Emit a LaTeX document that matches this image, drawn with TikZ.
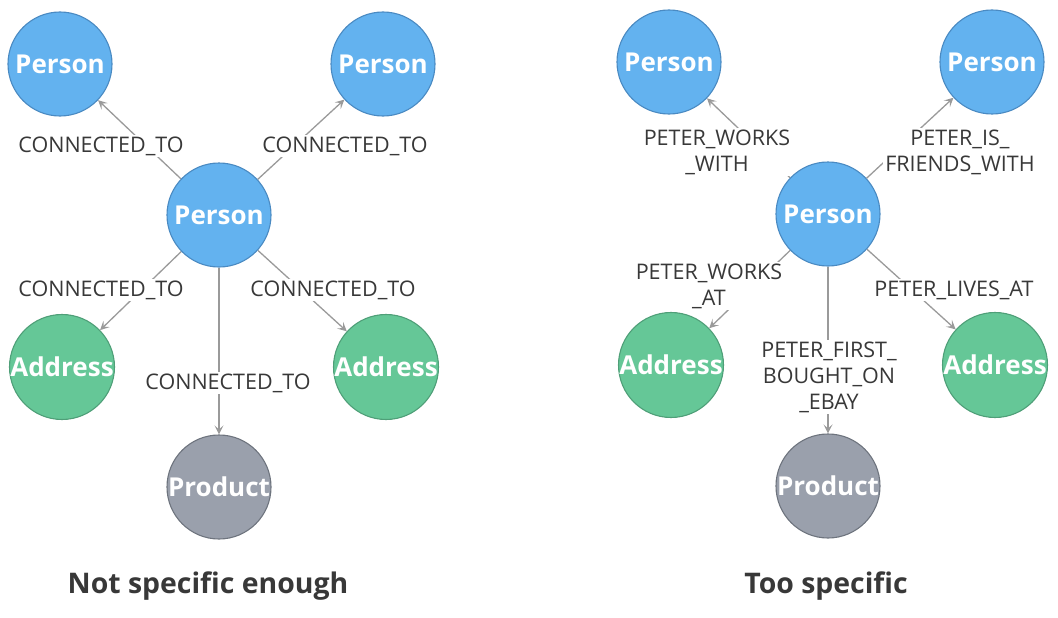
\documentclass[tikz,border=0pt]{standalone}
\usepackage{fontspec}
\setmainfont{Open Sans}
\usepackage{xcolor}
\usetikzlibrary{arrows.meta,positioning,backgrounds}
\definecolor{PersonFill}{HTML}{63B2EF}
\definecolor{PersonLine}{HTML}{4A8AC2}
\definecolor{AddressFill}{HTML}{65C797}
\definecolor{AddressLine}{HTML}{4F9F78}
\definecolor{ProductFill}{HTML}{9AA0AC}
\definecolor{ProductLine}{HTML}{6E747E}
\definecolor{Edge}{HTML}{9A9A9A}
\definecolor{Ink}{HTML}{383838}
\tikzset{entity/.style={circle,line width=1.1pt,minimum size=104pt,inner sep=0pt,text=white,font=\fontsize{26}{30}\selectfont\bfseries},person/.style={entity,draw=PersonLine,fill=PersonFill},address/.style={entity,draw=AddressLine,fill=AddressFill},product/.style={entity,draw=ProductLine,fill=ProductFill},rel/.style={draw=Edge,line width=1.3pt,-{Stealth[length=9pt,width=9pt,inset=4pt]}},rellabel/.style={fill=white,inner xsep=2.5pt,inner ysep=1.5pt,align=center,text=Ink,font=\fontsize{21.5}{26}\selectfont},caption/.style={text=Ink,font=\fontsize{28.4}{32}\selectfont\bfseries}}

\begin{document}
\begin{tikzpicture}[x=1pt,y=-1pt]
\useasboundingbox (0,0) rectangle (1058,618);
% left: one generic relationship
\node[person] (lc) at (219,215) {Person};
\node[person] (ltl) at (60,64) {Person};
\node[person] (ltr) at (383,64) {Person};
\node[address] (lal) at (62,367) {Address};
\node[address] (lar) at (386,367) {Address};
\node[product] (lp) at (219,487) {Product};
\node[caption] (lt) at (208,586) {Not specific enough};
% right: one relationship per case
\node[person] (rc) at (828,214) {Person};
\node[person] (rtl) at (669,62) {Person};
\node[person] (rtr) at (992,62) {Person};
\node[address] (ral) at (671,365) {Address};
\node[address] (rar) at (995,365) {Address};
\node[product] (rp) at (828,486) {Product};
\node[caption] (rt) at (826,586) {Too specific};
% edges and their labels stay under the circles
\begin{scope}[on background layer]
\draw[rel] (lc) -- (ltl);
\draw[rel] (lc) -- (ltr);
\draw[rel] (lc) -- (lal);
\draw[rel] (lc) -- (lar);
\draw[rel] (lc) -- (lp);
\node[rellabel] (l1) at (101,146) {CONNECTED\_TO};
\node[rellabel] (l2) at (345,146) {CONNECTED\_TO};
\node[rellabel] (l3) at (101,290) {CONNECTED\_TO};
\node[rellabel] (l4) at (333,290) {CONNECTED\_TO};
\node[rellabel] (l5) at (228,383) {CONNECTED\_TO};
\draw[rel] (rc) -- (rtl);
\draw[rel] (rc) -- (rtr);
\draw[rel] (rc) -- (ral);
\draw[rel] (rc) -- (rar);
\draw[rel] (rc) -- (rp);
\node[rellabel] (r1) at (717,152) {PETER\_WORKS\\\_WITH};
\node[rellabel] (r2) at (960,152) {PETER\_IS\_\\FRIENDS\_WITH};
\node[rellabel] (r3) at (709,286) {PETER\_WORKS\\\_AT};
\node[rellabel] (r4) at (954,290) {PETER\_LIVES\_AT};
\node[rellabel] (r5) at (829,377) {PETER\_FIRST\_\\BOUGHT\_ON\\\_EBAY};
\end{scope}
\end{tikzpicture}
\end{document}
